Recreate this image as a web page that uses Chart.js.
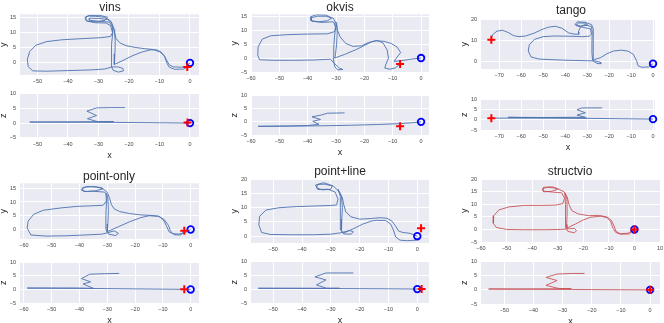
<!DOCTYPE html>
<html>
<head>
<meta charset="utf-8">
<script src="https://cdn.jsdelivr.net/npm/chart.js@4"></script>
<style>
html, body { margin: 0; padding: 0; background: #fff; }
body { position: relative; width: 664px; height: 323px; overflow: hidden; font-family: "Liberation Sans", Arial, sans-serif; }
.ttl { position: absolute; font-size: 12px; color: #262626; transform: translate(-50%, -50%); white-space: nowrap; }
</style>
</head>
<body>
<script>
// ---------- data ----------
const panelNames = ['vins', 'okvis', 'tango', 'point-only', 'point+line', 'structvio']

const vinsXY = [[0,0],[-1.2,-1.2],[-3,-1.4],[-5.5,-1.3],[-6.8,-0.6],[-7.6,0.8],[-8.5,2.4],[-9.8,3.6],[-12,4.4],[-15,4.7],[-18,5.1],[-21,5.7],[-23,6.6],[-24.2,8],[-24.8,10],[-25.2,12],[-26,13.8],[-28,15],[-31,15.3],[-33.5,15.4],[-34.2,14.5],[-33.5,13.6],[-30.5,13.5],[-27.8,14],[-27,15],[-29.5,15.6],[-33,15.6],[-34.4,15],[-34,13.8],[-31,13.2],[-27.5,13.1],[-26,12.2],[-25.4,10],[-26,8.7],[-29,8.3],[-35,8],[-42,7.6],[-47,7],[-50.5,5.8],[-52.5,3.8],[-53.3,1.2],[-53,-1.2],[-51.5,-2.6],[-47,-2.7],[-40,-2.5],[-33,-2.3],[-28,-2],[-25.5,-1.3],[-23.5,-1.3],[-22,-1.8],[-21.8,-2.6],[-23.5,-3],[-25.2,-2.4],[-25.8,-1],[-25.8,2],[-25.6,6],[-25.3,10],[-25.6,13],[-27,14.3],[-30,14.6],[-32.8,14.7],[-33,14],[-30,13.7],[-26.5,13.4],[-24.7,11],[-24.5,7],[-24.6,3],[-24.8,-0.5],[-22,0.8],[-19,2.3],[-16,3.5],[-13,4.3],[-11,4.3],[-9.5,3.6],[-8.3,2.2],[-7.6,0],[-6.8,-1.4],[-5,-2.1],[-2,-2],[-0.9,-1.3]]
const vinsXZ = [[0,0],[-10,0.1],[-20,0.2],[-30,0.3],[-40,0.3],[-52.5,0.35],[-45,0.4],[-35,0.45],[-25,0.5],[-30,0.4],[-33.6,1.5],[-30.6,2.6],[-33.8,4.1],[-30.6,5.2],[-26,5.3],[-21.3,5.3]]

const okvisXY = [[0,0],[-3,-0.3],[-6,-0.8],[-9.5,-1.2],[-8.5,0.3],[-7.2,2],[-8.5,4],[-10.5,5.2],[-13,6],[-16,6.2],[-18.5,5.6],[-21,4.4],[-24,4.2],[-26.5,5.2],[-28.5,7.5],[-29.5,10],[-30,12.5],[-31,14.3],[-33.5,15],[-36.5,15],[-38.8,14.5],[-38.8,13.4],[-36,13],[-33,13.4],[-31.5,14.4],[-33.5,15.4],[-37,15.5],[-39,14.8],[-38.5,13.2],[-35,12.8],[-31,13],[-30,11.5],[-30.5,9.5],[-33,8.7],[-40,8.6],[-47,8.4],[-53,8],[-56,6.8],[-57.5,4],[-57.6,1],[-57,-0.6],[-52,-0.8],[-45,-0.8],[-38,-0.7],[-32,-0.4],[-30.5,-2],[-28.8,-3.6],[-27.6,-4.1],[-29.5,-4.2],[-30.5,-3],[-31,0],[-30.8,4],[-30.5,8],[-30.2,11],[-30.6,12.5],[-29.8,12.8],[-29.6,9],[-29.8,5],[-30.2,1],[-30.5,0],[-27,1.3],[-23,3],[-20,4.5],[-17.5,5.8],[-15.5,6.3],[-13.5,5.5],[-12,3],[-11.5,0],[-12.5,-2.5],[-12.8,-3.6],[-11,-4],[-9,-3.5],[-7.4,-2.1]]
const okvisXZ = [[0,0],[-3,-0.3],[-8,-0.7],[-15,-1],[-25,-1.3],[-35,-1.5],[-45,-1.6],[-57.5,-1.7],[-48,-1.6],[-40,-1.4],[-36,-0.9],[-38.2,0.2],[-35.5,0.9],[-38.5,1.9],[-35.2,2.6],[-33,3.3],[-27,3.4]]

const tangoXY = [[0,-1],[-2,-2.5],[-5,-2.7],[-6.8,-2],[-7.5,0.5],[-9,3.5],[-11.5,5],[-14.5,5.4],[-18,5],[-21,3.7],[-24,1.8],[-27,0.9],[-27.3,4],[-27.3,8],[-27.2,12],[-27,15.5],[-28,17.5],[-31,18.6],[-34.5,18.8],[-35.5,17.5],[-33,16.8],[-29.8,17.2],[-30.5,18.2],[-34,18.3],[-35,17],[-31,16],[-28.5,15.5],[-28,13],[-29,12],[-32,11.8],[-38,12],[-45,12.1],[-50,11.8],[-54,10.5],[-56.3,8],[-56.8,5],[-55.5,2.2],[-52,1.2],[-46,0.9],[-38,0.6],[-30,0.4],[-26.5,0.3],[-24,-0.3],[-23.8,-1],[-25.5,-0.9],[-27.5,0.5],[-27.8,4],[-27.8,9],[-27.7,14],[-28,16.5],[-31,17.5],[-33,16.5],[-34,14],[-33.8,12.9],[-36,13],[-38.5,13.6],[-41.5,15.8],[-44.5,16.7],[-47.5,16.3],[-50.5,15.2],[-54,13.5],[-58,12.1],[-61,11.8],[-63.5,12.3],[-66,13.8],[-68.5,14.8],[-71,14.4],[-73,12.8],[-73.6,11]]
const tangoXZ = [[0,0.3],[-15,0.5],[-30,0.7],[-45,1],[-60,1.1],[-66,1.2],[-50,1.1],[-37,1.2],[-30.8,1.2],[-34.6,2.3],[-30.8,3.4],[-34.6,4.9],[-32.3,5.8],[-28,5.8],[-23.2,5.8],null,[-30,0.8],[-50,0.8],[-73.6,0.8]]

const pointOnlyXY = [[0,0],[-2,-1.2],[-4.5,-1.7],[-6.5,-1.5],[-7.8,-0.8],[-8.8,1.5],[-9.8,3.5],[-11.5,4.8],[-14,5.1],[-18,5.3],[-22,5.8],[-25.5,6.5],[-27.5,7.5],[-28.5,9],[-29.2,11.5],[-30,13.5],[-32,15.2],[-35.5,15.6],[-38.8,15.3],[-39.3,14.3],[-37.5,13.8],[-34,14.1],[-31.5,14.8],[-34,15.5],[-37.5,15.6],[-39,14.8],[-38.5,13.8],[-35,13.9],[-31,13.6],[-30,12.5],[-30.2,10.5],[-31.5,8.8],[-36,8.6],[-41,8.4],[-47,7.8],[-53,7],[-56.5,5.5],[-58.5,3],[-58.8,0.5],[-57.5,-2],[-52,-2.4],[-45,-2.3],[-38,-2],[-32,-1.7],[-30,-1.2],[-27.5,-0.5],[-26,-1.4],[-27,-2.2],[-29.5,-1.7],[-30.5,0],[-30.5,5],[-30.3,10],[-30.5,13.2],[-29.8,11.5],[-29.6,7],[-29.8,2],[-30,-0.8],[-26,1],[-22,2.8],[-18,4.3],[-15,5],[-11.5,4.8],[-9.5,3.6],[-8,1.5],[-7.3,-0.5],[-6,-1.9],[-3.5,-2],[-2.3,-0.5]]
const pointOnlyXZ = [[0,0],[-10,0.1],[-20,0.2],[-30,0.3],[-40,0.4],[-50,0.45],[-58.8,0.5],[-50,0.5],[-42,0.5],[-35,0.4],[-38.7,2],[-36,2.8],[-39.3,4],[-36.3,5.6],[-31,5.8],[-25.7,5.9]]

const pointLineXY = [[0,0],[-2.5,1],[-5,1.3],[-6.5,1.8],[-7.5,3.5],[-8.8,5.3],[-10.5,6.3],[-13,6.5],[-16,6.2],[-20,6],[-23,6.8],[-24.8,8.5],[-25.5,11],[-26,13.5],[-27,15.5],[-29,17.5],[-32,18.3],[-34.5,18.2],[-35,17],[-33,16.3],[-30,16.5],[-29.5,17.8],[-32.5,18.8],[-35.3,18],[-34.5,16.4],[-31,16.5],[-28.5,15.5],[-27.5,13],[-28,11],[-30,10.8],[-36,10.6],[-42,10.4],[-48,10],[-52.5,9.2],[-54.7,7],[-55,4],[-54,1.3],[-51,0.6],[-44,0.5],[-36,0.5],[-30,0.7],[-26.5,1.2],[-23.5,2],[-22.2,1.5],[-23,0.7],[-25.5,0.8],[-26.8,2.5],[-26.8,6],[-26.6,10],[-26.7,14],[-27.5,16.5],[-26.3,14],[-26,10],[-26.2,6],[-26.3,2],[-25.7,1],[-22,2.7],[-19,4.2],[-16,5.3],[-14,5.6],[-11,5.5],[-9.2,4.2],[-8.3,2.2],[-7.5,-0.3],[-6,-1.4],[-3.5,-1.6],[-0.5,-1.4],[0.6,-0.5]]
const pointLineXZ = [[0,0],[-10,0.1],[-20,0.15],[-30,0.2],[-40,0.25],[-55.2,0.3],[-45,0.3],[-35,0.3],[-27,0.3],[-31.5,0.3],[-35,1.5],[-31.7,3.3],[-35.5,4.4],[-31.7,5.8],[-27,5.8],[-22.2,5.8]]

const structvioXY = [[0,0],[-2.5,-1.5],[-5.5,-1.7],[-7.2,-0.8],[-8,1.5],[-9,3.6],[-10.8,5],[-14,5.6],[-18,5.5],[-22,6.2],[-24.5,7.5],[-25.6,10],[-26.3,13],[-27.5,15],[-30.5,16.5],[-34,16.8],[-36,16.3],[-35.5,15],[-32.5,15.2],[-30,16],[-32,17],[-35.5,16.8],[-35.8,15.3],[-32,14.9],[-28.5,14.6],[-27.3,12.5],[-28,10.3],[-31,9.7],[-37,9.6],[-43,9.6],[-49,9],[-53,7.8],[-55,5.5],[-55.2,2.5],[-54,0.8],[-50,0],[-43,-0.1],[-35,-0.1],[-29,0],[-26.5,0.2],[-23.5,0.4],[-22.6,-0.5],[-23.5,-1.3],[-26,-0.8],[-27,1],[-27,5],[-26.9,10],[-27.2,14.5],[-26.4,12],[-26.3,7],[-26.5,2],[-26.4,0.5],[-23,2.2],[-20,3.8],[-17,4.9],[-13,5.3],[-10.5,4.6],[-9.2,3],[-8.4,0.5],[-7.3,-1.2],[-5.5,-1.9],[-2,-1.8],[0,0]]
const structvioXZ = [[0,0],[-10,0.05],[-20,0.1],[-27,0.15],[-35,0.2],[-45,0.25],[-55.4,0.3],[-45,0.3],[-35,0.35],[-27,0.4],[-31.4,0.5],[-35.7,1.6],[-31.9,3.3],[-35.7,4.4],[-31.9,5.6],[-27,5.8],[-22.5,5.8]]

// start (blue circle) and end (red cross) of each run
const startXY = [[0,0],[0,0],[0,-1],[0,0],[0,0],[0,0]]
const endXY = [[-0.9,-1.3],[-7.4,-2.1],[-73.6,10.3],[-2.3,-0.5],[1.3,2.8],[0,0]]
const startXZ = [[0,0],[0,0],[0,0.3],[0,0],[0,0],[0,0]]
const endXZ = [[-0.8,0.2],[-7.4,-1.7],[-73.6,0.8],[-2.3,0.1],[1.5,0],[0,0]]

// tick labels
const xTicks50 = [-50,-40,-30,-20,-10,0]
const xTicks60 = [-60,-50,-40,-30,-20,-10,0]
const xTicks70 = [-70,-60,-50,-40,-30,-20,-10,0]
const xTicksSv = [-60,-50,-40,-30,-20,-10,0,10]
const yTicks15 = [0,5,10,15]
const yTicksOk = [-5,0,5,10,15]
const yTicksTg = [0,10,20]
const yTicksPl = [0,5,10,15,20]
const yTicksSv = [-5,0,5,10,15,20]
const zTicks = [-5,0,5,10]

// ---------- layout ----------
const BLUE = 'rgba(76,114,176,0.9)'
const RED = 'rgba(196,78,82,0.85)'
const FONT = '"Liberation Sans", Arial, sans-serif'

const titles = [[110,7],[340,7],[571,10],[109,176],[340,171],[570,171]]

const panels = [
  { xy: vinsXY, xz: vinsXZ, color: BLUE,
    top: {l:20, t:13, r:199, b:75, x0:-55.7, x1:2.95, y0:-3.95, y1:15.96, xt:xTicks50, yt:yTicks15},
    bot: {l:20, t:92, r:199, b:137.5, x0:-55.7, x1:2.95, y0:-5.1, y1:10.2, xt:xTicks50, yt:zTicks} },
  { xy: okvisXY, xz: okvisXZ, color: BLUE,
    top: {l:251, t:13.3, r:429, b:72.7, x0:-60, x1:2.8, y0:-5, y1:15.7, xt:xTicks60, yt:yTicksOk},
    bot: {l:251, t:94, r:429, b:135.3, x0:-60, x1:2.8, y0:-5, y1:10.1, xt:xTicks60, yt:zTicks} },
  { xy: tangoXY, xz: tangoXZ, color: BLUE,
    top: {l:481, t:18.3, r:655, b:69.3, x0:-78.3, x1:0.9, y0:-3.5, y1:20, xt:xTicks70, yt:yTicksTg},
    bot: {l:481, t:98.3, r:655, b:130.7, x0:-78.3, x1:0.9, y0:-5, y1:10, xt:xTicks70, yt:zTicks} },
  { xy: pointOnlyXY, xz: pointOnlyXZ, color: BLUE,
    top: {l:20, t:182.3, r:199, b:239, x0:-61.4, x1:3, y0:-3.46, y1:16.8, xt:xTicks60, yt:yTicks15},
    bot: {l:20, t:261.3, r:199, b:303, x0:-61.4, x1:3, y0:-5, y1:10, xt:xTicks60, yt:zTicks} },
  { xy: pointLineXY, xz: pointLineXZ, color: BLUE,
    top: {l:251, t:178, r:429, b:243, x0:-57.7, x1:4.06, y0:-2.4, y1:20, xt:xTicks50, yt:yTicksPl},
    bot: {l:251, t:260.3, r:429, b:303.3, x0:-57.7, x1:4.06, y0:-5, y1:10, xt:xTicks50, yt:zTicks} },
  { xy: structvioXY, xz: structvioXZ, color: RED,
    top: {l:481, t:178, r:660, b:242.3, x0:-60, x1:10, y0:-5, y1:20, xt:xTicksSv, yt:yTicksSv},
    bot: {l:481, t:260, r:660, b:303.7, x0:-58, x1:3.4, y0:-5, y1:10.1, xt:xTicks50, yt:zTicks} }
]

const bgPlugin = {
  id: 'bg',
  beforeDraw(chart) {
    const { ctx, chartArea: a } = chart
    ctx.save()
    ctx.fillStyle = '#eaeaf2'
    ctx.fillRect(a.left, a.top, a.right - a.left, a.bottom - a.top)
    ctx.restore()
  }
}

const toPts = arr => arr.map(p => p ? { x: p[0], y: p[1] } : { x: null, y: null })
const fmt = v => v < 0 ? '\u2212' + Math.abs(v) : String(v)

function addPlot(p, line, start, end, color, xTitle, yTitle) {
  const padL = 22, padT = 6, padR = 8
  const padB = xTitle ? 23 : 11
  const w = p.r - p.l, h = p.b - p.t
  const cw = Math.round(w + padL + padR), ch = Math.round(h + padT + padB)
  const c = document.createElement('canvas')
  c.width = cw
  c.height = ch
  c.style.cssText = `position:absolute;left:${p.l - padL}px;top:${p.t - padT}px;width:${cw}px;height:${ch}px`
  document.body.appendChild(c)

  const tickFont = { size: 5.5, family: FONT }
  new Chart(c, {
    type: 'scatter',
    data: {
      datasets: [
        { data: toPts(line), showLine: true, borderColor: color, borderWidth: 1, pointRadius: 0, spanGaps: false, order: 3 },
        { data: toPts([start]), pointStyle: 'circle', pointRadius: 3.3, borderWidth: 1.8, pointBorderWidth: 1.8,
          borderColor: '#0000ff', backgroundColor: 'rgba(0,0,0,0)', clip: false, order: 2 },
        { data: toPts([end]), pointStyle: 'cross', pointRadius: 4, borderWidth: 2, pointBorderWidth: 2,
          borderColor: '#ff0000', clip: false, order: 1 }
      ]
    },
    options: {
      responsive: false,
      animation: false,
      devicePixelRatio: 1,
      layout: { padding: { left: 0, top: padT, right: padR, bottom: 0 } },
      plugins: { legend: { display: false }, tooltip: { enabled: false } },
      scales: {
        x: {
          type: 'linear', min: p.x0, max: p.x1,
          grid: { color: '#ffffff', lineWidth: 1, drawTicks: false },
          border: { display: false },
          ticks: { font: tickFont, color: '#444', padding: 3, maxRotation: 0, autoSkip: false, callback: fmt },
          afterBuildTicks: s => { s.ticks = p.xt.map(v => ({ value: v })) },
          afterFit: s => { s.height = padB },
          title: { display: !!xTitle, text: 'x', font: { size: 9, family: FONT }, color: '#262626', padding: 0 }
        },
        y: {
          type: 'linear', min: p.y0, max: p.y1,
          grid: { color: '#ffffff', lineWidth: 1, drawTicks: false },
          border: { display: false },
          ticks: { font: tickFont, color: '#444', padding: 4, autoSkip: false, callback: fmt },
          afterBuildTicks: s => { s.ticks = p.yt.map(v => ({ value: v })) },
          afterFit: s => { s.width = padL },
          title: { display: true, text: yTitle, font: { size: 9, family: FONT }, color: '#262626', padding: 0 }
        }
      }
    },
    plugins: [bgPlugin]
  })
}

panels.forEach((pn, i) => {
  addPlot(pn.top, pn.xy, startXY[i], endXY[i], pn.color, false, 'y')
  addPlot(pn.bot, pn.xz, startXZ[i], endXZ[i], pn.color, true, 'z')
  const t = document.createElement('div')
  t.className = 'ttl'
  t.textContent = panelNames[i]
  t.style.left = titles[i][0] + 'px'
  t.style.top = titles[i][1] + 'px'
  document.body.appendChild(t)
})
</script>
</body>
</html>
